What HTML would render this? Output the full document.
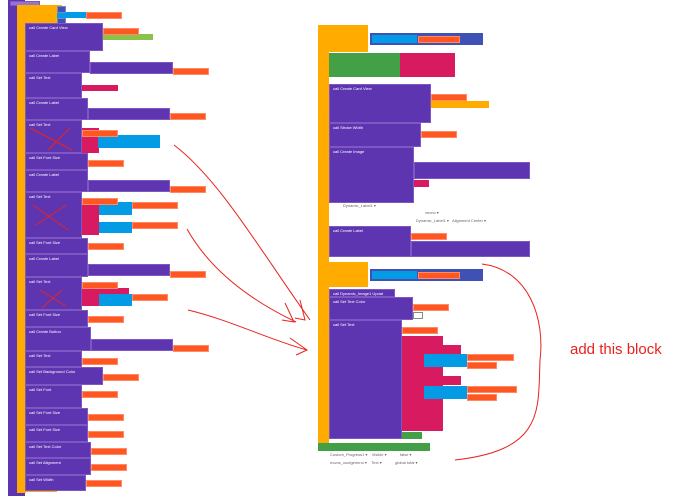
<!DOCTYPE html>
<html><head><meta charset="utf-8"><style>
body{margin:0;width:690px;height:496px;background:#fff;position:relative;overflow:hidden;font-family:"Liberation Sans",sans-serif;}
div{position:absolute;box-sizing:border-box;}
.p{background:#5e35b1;border:1px solid #7e57c2;color:#fff;font-size:4px;padding:1px 3px;}
.o{background:#ffab00;}
.g{background:#ff5722;border:1px solid #ff8a65;height:7px;width:36px;}
.b{background:#039be5;}
.k{background:#d81b60;}
.gr{background:#43a047;}
.n{background:#3f51b5;border:1px solid #7986cb;height:7px;width:9px;}
.t{font-size:4px;color:#666;}
</style></head><body>
<!-- left column -->
<div class="p" style="left:8px;top:0;width:17px;height:496px;border:none;background:#5e35b1"></div>
<div class="p" style="left:10px;top:1px;width:30px;height:5px;background:#9575cd;"></div>
<div class="o" style="left:17px;top:5px;width:45px;height:18px;"></div>
<div class="o" style="left:17px;top:5px;width:9px;height:488px;"></div>
<div class="o" style="left:17px;top:488px;width:40px;height:4px;"></div>
<div class="b" style="left:57px;top:12px;width:30px;height:6px;"></div>
<div class="g" style="left:86px;top:12px;"></div>
<div class="n" style="left:57px;top:6px;"></div><div class="n" style="left:57px;top:18px;"></div>

<div class="p" style="left:25px;top:23px;width:78px;height:28px;">call Create Card View</div>
<div style="left:103px;top:34px;width:50px;height:6px;background:#8bc34a;"></div>
<div class="g" style="left:103px;top:28px;"></div>
<div class="p" style="left:25px;top:51px;width:65px;height:22px;">call Create Label</div>
<div class="p" style="left:90px;top:62px;width:83px;height:12px;"></div>
<div class="g" style="left:173px;top:68px;"></div>
<div class="p" style="left:25px;top:73px;width:57px;height:25px;">call Set Text</div>
<div class="k" style="left:82px;top:85px;width:36px;height:6px;"></div>
<div class="p" style="left:25px;top:98px;width:63px;height:22px;">call Create Label</div>
<div class="p" style="left:88px;top:108px;width:82px;height:12px;"></div>
<div class="g" style="left:170px;top:113px;"></div>
<div class="p" style="left:25px;top:120px;width:57px;height:33px;">call Set Text</div>
<div class="k" style="left:82px;top:128px;width:17px;height:25px;"></div>
<div class="b" style="left:98px;top:135px;width:62px;height:13px;"></div>
<div class="p" style="left:25px;top:153px;width:63px;height:17px;">call Set Font Size</div>
<div class="p" style="left:25px;top:170px;width:63px;height:22px;">call Create Label</div>
<div class="p" style="left:88px;top:180px;width:82px;height:12px;"></div>
<div class="g" style="left:170px;top:186px;"></div>
<div class="p" style="left:25px;top:192px;width:57px;height:46px;">call Set Text</div>
<div class="k" style="left:82px;top:200px;width:17px;height:35px;"></div>
<div class="b" style="left:99px;top:202px;width:33px;height:13px;"></div>
<div class="b" style="left:99px;top:222px;width:33px;height:11px;"></div>
<div class="g" style="left:132px;top:202px;width:46px;"></div><div class="g" style="left:132px;top:222px;width:46px;"></div>
<div class="p" style="left:25px;top:238px;width:63px;height:16px;">call Set Font Size</div>
<div class="p" style="left:25px;top:254px;width:63px;height:23px;">call Create Label</div>
<div class="p" style="left:88px;top:264px;width:82px;height:12px;"></div>
<div class="g" style="left:170px;top:271px;"></div>
<div class="p" style="left:25px;top:277px;width:57px;height:33px;">call Set Text</div>
<div class="k" style="left:82px;top:288px;width:47px;height:18px;"></div>
<div class="b" style="left:99px;top:294px;width:33px;height:12px;"></div>
<div class="g" style="left:132px;top:294px;width:36px;"></div>
<div class="p" style="left:25px;top:310px;width:63px;height:17px;">call Set Font Size</div>
<div class="p" style="left:25px;top:327px;width:66px;height:24px;">call Create Button</div>
<div class="p" style="left:91px;top:339px;width:82px;height:12px;"></div>
<div class="g" style="left:173px;top:345px;"></div>
<div class="p" style="left:25px;top:351px;width:57px;height:16px;">call Set Text</div>
<div class="p" style="left:25px;top:367px;width:78px;height:18px;">call Set Background Color</div>
<div class="g" style="left:103px;top:374px;"></div>
<div class="p" style="left:25px;top:385px;width:57px;height:23px;">call Set Font</div>
<div class="p" style="left:25px;top:408px;width:63px;height:17px;">call Set Font Size</div>
<div class="p" style="left:25px;top:425px;width:63px;height:17px;">call Set Font Size</div>
<div class="p" style="left:25px;top:442px;width:66px;height:16px;">call Set Text Color</div>
<div class="p" style="left:25px;top:458px;width:66px;height:17px;">call Set Alignment</div>
<div class="p" style="left:25px;top:475px;width:61px;height:16px;">call Set Width</div>
<div class="g" style="left:82px;top:130px;"></div><div class="g" style="left:88px;top:160px;"></div><div class="g" style="left:82px;top:198px;"></div>
<div class="g" style="left:88px;top:243px;"></div><div class="g" style="left:82px;top:282px;"></div><div class="g" style="left:88px;top:316px;"></div>
<div class="g" style="left:82px;top:358px;"></div><div class="g" style="left:82px;top:391px;"></div><div class="g" style="left:88px;top:414px;"></div>
<div class="g" style="left:88px;top:431px;"></div><div class="g" style="left:91px;top:448px;"></div><div class="g" style="left:91px;top:464px;"></div><div class="g" style="left:86px;top:480px;"></div>

<!-- right column -->
<div class="o" style="left:318px;top:25px;width:50px;height:27px;"></div>
<div class="o" style="left:318px;top:25px;width:11px;height:237px;"></div>
<div style="left:370px;top:33px;width:113px;height:12px;background:#3f51b5;"></div>
<div class="b" style="left:372px;top:35px;width:45px;height:8px;"></div>
<div class="g" style="left:418px;top:36px;width:42px;"></div>
<div class="gr" style="left:329px;top:53px;width:71px;height:24px;"></div>
<div class="k" style="left:400px;top:53px;width:55px;height:24px;"></div>
<div class="p" style="left:329px;top:84px;width:102px;height:39px;">call Create Card View</div>
<div class="o" style="left:431px;top:101px;width:58px;height:7px;"></div>
<div class="g" style="left:431px;top:94px;"></div>
<div class="p" style="left:329px;top:123px;width:92px;height:24px;">call Stroke Width</div>
<div class="g" style="left:421px;top:131px;"></div>
<div class="p" style="left:329px;top:147px;width:85px;height:56px;">call Create Image</div>
<div class="p" style="left:414px;top:162px;width:116px;height:17px;"></div>
<div class="k" style="left:414px;top:180px;width:15px;height:7px;"></div>
<div class="t" style="left:343px;top:203px;">Dynamic_Label1 ▾</div>
<div class="t" style="left:425px;top:210px;">vecno ▾</div>
<div class="t" style="left:416px;top:218px;">Dynamic_Label1 ▾ &nbsp; Alignment Center ▾</div>
<div class="p" style="left:329px;top:226px;width:82px;height:31px;">call Create Label</div>
<div class="p" style="left:411px;top:241px;width:119px;height:16px;"></div>
<div class="g" style="left:411px;top:233px;"></div>

<div class="o" style="left:318px;top:262px;width:50px;height:25px;"></div>
<div class="o" style="left:318px;top:262px;width:11px;height:183px;"></div>
<div style="left:370px;top:269px;width:113px;height:12px;background:#3f51b5;"></div>
<div class="b" style="left:372px;top:271px;width:45px;height:8px;"></div>
<div class="g" style="left:418px;top:272px;width:42px;"></div>
<div class="p" style="left:329px;top:289px;width:66px;height:8px;">call Dynamic_Image1 Updat</div>
<div class="p" style="left:329px;top:297px;width:84px;height:23px;">call Set Text Color</div>
<div class="g" style="left:413px;top:304px;"></div>
<div style="left:413px;top:312px;width:10px;height:7px;background:#fff;border:1px solid #888;"></div>
<div class="p" style="left:329px;top:320px;width:73px;height:119px;">call Set Text</div>
<div class="g" style="left:402px;top:327px;"></div>
<div class="k" style="left:402px;top:336px;width:41px;height:95px;"></div>
<div class="k" style="left:424px;top:345px;width:37px;height:9px;"></div>
<div class="b" style="left:424px;top:354px;width:43px;height:13px;"></div>
<div class="g" style="left:467px;top:354px;width:47px;"></div><div class="g" style="left:467px;top:362px;width:30px;"></div>
<div class="k" style="left:424px;top:376px;width:37px;height:9px;"></div>
<div class="b" style="left:424px;top:386px;width:43px;height:13px;"></div>
<div class="g" style="left:467px;top:386px;width:50px;"></div><div class="g" style="left:467px;top:394px;width:30px;"></div>
<div class="gr" style="left:402px;top:432px;width:20px;height:7px;"></div>
<div class="gr" style="left:318px;top:443px;width:112px;height:8px;"></div>
<div class="t" style="left:330px;top:452px;">Custom_Progress1 ▾ &nbsp;&nbsp; Visible ▾ &nbsp;&nbsp;&nbsp;&nbsp;&nbsp;&nbsp;&nbsp;&nbsp;&nbsp;&nbsp; false ▾</div>
<div class="t" style="left:330px;top:460px;">novos_usofgeneno ▾ &nbsp;&nbsp; Text ▾ &nbsp;&nbsp;&nbsp;&nbsp;&nbsp;&nbsp;&nbsp;&nbsp;&nbsp;&nbsp; global total ▾</div>

<div style="left:570px;top:341px;font-size:15px;color:#e8231f;white-space:nowrap;">add this block</div>
<svg style="position:absolute;left:0;top:0" width="690" height="496" fill="none" stroke="#e8231f" stroke-width="1">
<path d="M174 145 C220 180 260 250 310 320 M300 300 L305 320 L295 318"/>
<path d="M187 229 C210 270 250 300 296 322 M285 303 L294 322 L282 320"/>
<path d="M188 310 C230 320 270 340 307 350 M290 338 L307 350 L296 355"/>
<path d="M482 264 C530 270 545 320 540 360 C538 410 545 450 455 460"/>
<path d="M30 128 L72 150 M70 128 L48 150 M33 205 L68 230 M66 205 L36 225 M40 290 L66 306 M62 290 L42 308"/>
</svg>
</body></html>
